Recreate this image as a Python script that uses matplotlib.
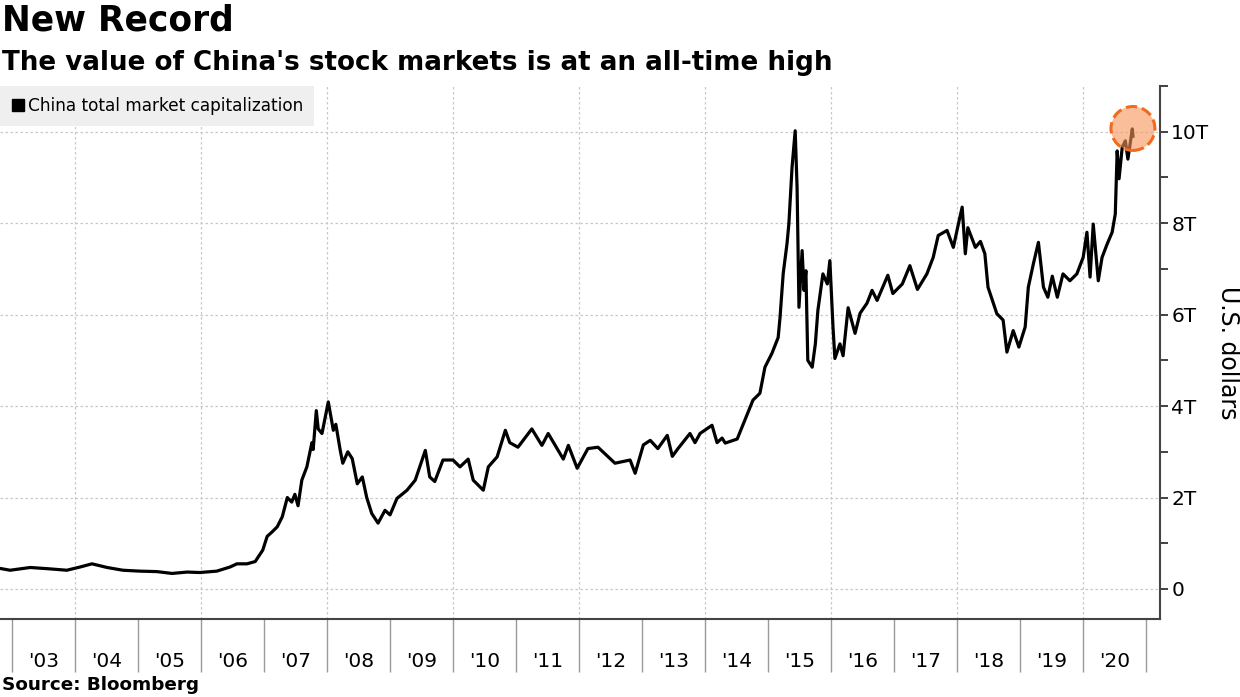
import matplotlib
matplotlib.use('Agg')
import matplotlib.pyplot as plt
from matplotlib.lines import Line2D

# China total market capitalization, trillions of USD
years = [2002.81, 2002.97, 2003.29, 2003.60, 2003.87, 2004.08, 2004.27, 2004.51, 2004.76,
         2005.03, 2005.30, 2005.54, 2005.78, 2005.98, 2006.25, 2006.46, 2006.57, 2006.73,
         2006.86, 2006.98, 2007.05, 2007.13, 2007.21, 2007.29, 2007.37, 2007.44, 2007.49,
         2007.54, 2007.60, 2007.68, 2007.76, 2007.78, 2007.83, 2007.86, 2007.92, 2007.97,
         2008.02, 2008.10, 2008.14, 2008.21, 2008.25, 2008.33, 2008.40, 2008.48, 2008.56,
         2008.63, 2008.71, 2008.81, 2008.92, 2009.00, 2009.11, 2009.27, 2009.40, 2009.56,
         2009.63, 2009.71, 2009.84, 2010.00, 2010.11, 2010.24, 2010.32, 2010.48, 2010.56,
         2010.70, 2010.83, 2010.90, 2011.03, 2011.25, 2011.41, 2011.51, 2011.75, 2011.83,
         2011.97, 2012.14, 2012.30, 2012.57, 2012.81, 2012.89, 2013.02, 2013.13, 2013.25,
         2013.40, 2013.48, 2013.57, 2013.76, 2013.84, 2013.92, 2014.11, 2014.19, 2014.27,
         2014.32, 2014.51, 2014.63, 2014.76, 2014.87, 2014.95, 2015.06, 2015.16, 2015.19,
         2015.24, 2015.30, 2015.33, 2015.38, 2015.43, 2015.46, 2015.49, 2015.54, 2015.57,
         2015.60, 2015.63, 2015.70, 2015.75, 2015.79, 2015.87, 2015.94, 2015.98, 2016.03,
         2016.06, 2016.14, 2016.19, 2016.27, 2016.38, 2016.46, 2016.57, 2016.65, 2016.73,
         2016.90, 2016.98, 2017.13, 2017.25, 2017.37, 2017.52, 2017.62, 2017.70, 2017.84,
         2017.94, 2018.02, 2018.08, 2018.13, 2018.17, 2018.29, 2018.37, 2018.44, 2018.49,
         2018.56, 2018.63, 2018.73, 2018.79, 2018.89, 2018.98, 2019.08, 2019.13, 2019.21,
         2019.29, 2019.37, 2019.44, 2019.51, 2019.59, 2019.68, 2019.79, 2019.90, 2020.00,
         2020.06, 2020.11, 2020.16, 2020.24, 2020.30, 2020.38, 2020.46, 2020.51, 2020.54,
         2020.57, 2020.62, 2020.67, 2020.71, 2020.78, 2020.79]
cap_tn = [0.45, 0.41, 0.47, 0.44, 0.41, 0.48, 0.55, 0.47, 0.41,
          0.39, 0.38, 0.34, 0.37, 0.36, 0.39, 0.48, 0.55, 0.55,
          0.60, 0.85, 1.15, 1.25, 1.36, 1.58, 2.00, 1.90, 2.07,
          1.82, 2.38, 2.67, 3.20, 3.05, 3.90, 3.50, 3.40, 3.75,
          4.09, 3.47, 3.60, 3.03, 2.75, 3.00, 2.85, 2.30, 2.45,
          2.00, 1.65, 1.44, 1.72, 1.62, 1.98, 2.16, 2.38, 3.03,
          2.45, 2.35, 2.82, 2.82, 2.67, 2.84, 2.38, 2.16, 2.67,
          2.89, 3.47, 3.20, 3.10, 3.50, 3.14, 3.40, 2.84, 3.14,
          2.64, 3.07, 3.10, 2.75, 2.82, 2.53, 3.15, 3.25, 3.07,
          3.36, 2.90, 3.07, 3.40, 3.20, 3.40, 3.58, 3.20, 3.30,
          3.19, 3.28, 3.69, 4.13, 4.28, 4.85, 5.15, 5.50, 5.95,
          6.90, 7.55, 7.99, 9.22, 10.02, 8.78, 6.16, 7.40, 6.53,
          6.96, 5.00, 4.85, 5.36, 6.09, 6.89, 6.67, 7.18, 5.73,
          5.04, 5.36, 5.10, 6.15, 5.59, 6.03, 6.25, 6.53, 6.31,
          6.86, 6.46, 6.67, 7.07, 6.55, 6.89, 7.25, 7.73, 7.84,
          7.47, 7.98, 8.35, 7.33, 7.90, 7.47, 7.60, 7.33, 6.60,
          6.31, 6.02, 5.88, 5.18, 5.65, 5.29, 5.73, 6.60, 7.11,
          7.58, 6.60, 6.38, 6.84, 6.38, 6.89, 6.74, 6.89, 7.25,
          7.80, 6.82, 7.98, 6.74, 7.25, 7.54, 7.80, 8.20, 9.58,
          8.97, 9.66, 9.80, 9.40, 10.06, 9.90]

record_year = 2020.79
record_value = 10.07

year_labels = ["'%02d" % (y % 100) for y in range(2003, 2021)]
ytick_vals = [0, 2, 4, 6, 8, 10]
ytick_labels = ['0', '2T', '4T', '6T', '8T', '10T']


def fit_width(txt, width_px):
    # scale a text so it spans the given number of pixels
    r = fig.canvas.get_renderer()
    w = txt.get_window_extent(r).width
    txt.set_fontsize(txt.get_fontsize() * width_px / w)


fig = plt.figure(figsize=(12.4, 6.97), dpi=100)
ax = fig.add_axes([0, 0.112, 0.9355, 0.7647])

ax.plot(years, cap_tn, color='black', lw=2.3, zorder=3)
ax.scatter([record_year], [record_value], s=1000, facecolor=(0.97, 0.58, 0.35, 0.6),
           edgecolor='#f26b1d', linestyle='--', linewidth=2.2, zorder=4)

ax.set_xlim(2002.81, 2021.22)
ax.set_ylim(-0.655, 11)

# grid
for v in ytick_vals:
    ax.axhline(v, color='#c8c8c8', lw=0.9, ls=(0, (2, 2)), zorder=0)
for yr in range(2004, 2021, 2):
    ax.axvline(yr, color='#c8c8c8', lw=0.9, ls=(0, (2, 2)), zorder=0)

# y axis on the right
ax.yaxis.tick_right()
ax.set_yticks(ytick_vals)
ax.set_yticklabels(ytick_labels)
ax.set_yticks(range(1, 12, 2), minor=True)
ax.tick_params(axis='y', which='both', length=6, width=1.3, color='#333333',
               labelsize=14.5, pad=2)
ax.yaxis.set_label_position('right')
ax.set_ylabel('U.S. dollars', rotation=-90, fontsize=17, labelpad=22)

# x axis: long ticks at year starts, labels centred in between
ax.set_xticks(range(2003, 2022))
ax.set_xticklabels([])
ax.set_xticks([y + 0.5 for y in range(2003, 2021)], minor=True)
ax.set_xticklabels(year_labels, minor=True)
ax.tick_params(axis='x', which='major', length=38, width=1, color='#999999')
ax.tick_params(axis='x', which='minor', length=0, labelsize=14.5, pad=24)

for s in ['left', 'top']:
    ax.spines[s].set_visible(False)
for s in ['bottom', 'right']:
    ax.spines[s].set_color('#444444')
    ax.spines[s].set_linewidth(1.5)

leg = ax.legend(handles=[Line2D([], [], marker='s', color='black', ls='none', markersize=8)],
                labels=['China total market capitalization'], loc='upper left',
                bbox_to_anchor=(0, 1), frameon=True, fancybox=False, framealpha=1,
                facecolor='#efefef', edgecolor='none', handletextpad=0.2,
                handlelength=0.8, borderpad=0.65, borderaxespad=0,
                prop={'size': 12.2})

t1 = fig.text(0.002, 0.995, 'New Record', fontsize=30, weight='bold', va='top')
t2 = fig.text(0.002, 0.928, "The value of China's stock markets is at an all-time high",
              fontsize=20, weight='bold', va='top')
t3 = fig.text(0.002, 0.004, 'Source: Bloomberg', fontsize=13, weight='bold', va='bottom')
fit_width(t1, 232)
fit_width(t2, 828)
fit_width(t3, 197)

fig.savefig('out.png', dpi=100)
